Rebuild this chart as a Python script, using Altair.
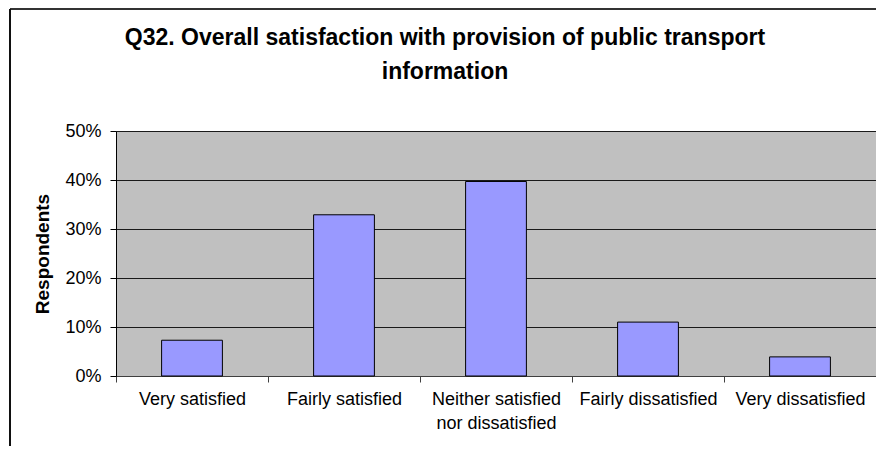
import altair as alt
import pandas as pd

categories = ["Very satisfied", "Fairly satisfied", "Neither satisfied nor dissatisfied",
              "Fairly dissatisfied", "Very dissatisfied"]
percent = [7.3, 32.9, 39.7, 11.0, 3.9]
y_ticks = [0, 0.1, 0.2, 0.3, 0.4, 0.5]
title_lines = ["Q32. Overall satisfaction with provision of public transport", "information"]

df = pd.DataFrame({"category": categories, "share": [p / 100 for p in percent]})

FONT = "Liberation Sans"
W, H = 760, 245

bars = alt.Chart(df).mark_bar(
    color="#9999FF", stroke="#000000", strokeWidth=1, width={"band": 0.4}
).encode(
    x=alt.X("category:N", sort=categories, title=None,
            scale=alt.Scale(paddingInner=0, paddingOuter=0),
            axis=alt.Axis(
                labelAngle=0, tickBand="extent", labelFontSize=18, labelFont=FONT,
                labelColor="#000000", labelPadding=8, labelLineHeight=24,
                tickSize=6, tickColor="#404040", domainColor="#404040",
                labelExpr="datum.label == 'Neither satisfied nor dissatisfied' ? ['Neither satisfied', 'nor dissatisfied'] : datum.label",
            )),
    y=alt.Y("share:Q", title="Respondents",
            scale=alt.Scale(domain=[0, 0.5], nice=False),
            axis=alt.Axis(
                values=y_ticks, format=".0%", labelFontSize=18, labelFont=FONT,
                labelColor="#000000", labelPadding=9, tickSize=6, tickColor="#000000",
                domainColor="#000000", gridColor="#1a1a1a", gridWidth=1,
                titleFont=FONT, titleFontSize=19, titleFontWeight="bold",
                titleColor="#000000", titlePadding=12,
            )),
)

frame_df = pd.DataFrame({"k": [0]})
frame_top = alt.Chart(frame_df).mark_rule(color="#333333", strokeWidth=2).encode(
    x=alt.value(-106), x2=alt.value(W + 20), y=alt.value(-122)
)
frame_left = alt.Chart(frame_df).mark_rule(color="#111111", strokeWidth=2).encode(
    x=alt.value(-106), y=alt.value(-122), y2=alt.value(H + 90)
)
title = alt.Chart(frame_df).mark_text(
    text=title_lines, font=FONT, fontSize=23, fontWeight="bold", color="#000000",
    align="center", baseline="middle", lineHeight=34,
).encode(
    x=alt.value(445 - 116), y=alt.value(38 - 131)
)

chart = alt.layer(bars, frame_top, frame_left, title).properties(
    width=W, height=H,
    autosize=alt.AutoSizeParams(type="none"),
    padding={"left": 108, "top": 123, "right": 0, "bottom": 70},
).configure(background="#FFFFFF").configure_view(
    fill="#C0C0C0", stroke="#808080", strokeWidth=1
)

chart.save("out.html", embed_options={"renderer": "svg", "actions": False})
